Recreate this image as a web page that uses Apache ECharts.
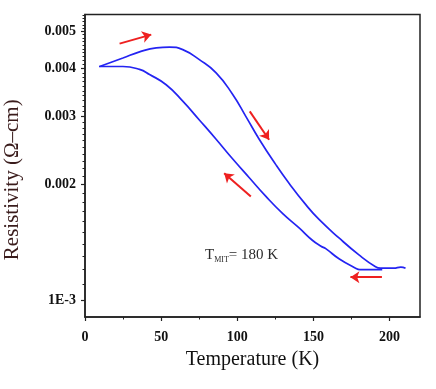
<!DOCTYPE html>
<html>
<head>
<meta charset="utf-8">
<script src="https://cdn.jsdelivr.net/npm/echarts@6/dist/echarts.min.js"></script>
<style>
html, body { margin: 0; padding: 0; background: #fff; }
#chart { width: 436px; height: 389px; }
</style>
</head>
<body>
<div id="chart"></div>
<script>
// heating run (upper branch): [T (K), resistivity (ohm-cm)]
var heating = [
    [9.6, 0.00405], [24.9, 0.00426], [35.8, 0.00442], [46.8, 0.00453], [55.5, 0.00455],
    [64.2, 0.00448], [75.1, 0.00422], [86.1, 0.00390], [96.9, 0.00343], [105.7, 0.00300],
    [114.4, 0.00262], [125.3, 0.00225], [134.1, 0.00201], [145.0, 0.00177], [153.7, 0.00162],
    [166.8, 0.00145], [179.9, 0.00131], [190.8, 0.00122], [194.0, 0.00121], [202.8, 0.00121],
    [207.4, 0.001218], [210.5, 0.00121]
]
// cooling run (lower branch)
var cooling = [
    [9.2, 0.00405], [24.9, 0.00405], [35.8, 0.00398], [42.4, 0.00386], [53.3, 0.00363],
    [64.2, 0.00329], [75.1, 0.00294], [86.1, 0.00262], [96.9, 0.00233], [107.9, 0.00208],
    [118.8, 0.00186], [129.7, 0.00168], [140.6, 0.00154], [149.3, 0.00143], [155.0, 0.00138],
    [158.1, 0.00136], [166.8, 0.00128], [177.7, 0.00121], [180.5, 0.00120], [195.2, 0.00120]
]
// red direction arrows: [tail, head]
var arrows = [
    [[22.7, 0.004645], [43.5, 0.004903]],
    [[108.2, 0.003095], [120.9, 0.002611]],
    [[108.9, 0.001858], [91.4, 0.002138]],
    [[195.0, 0.001146], [174.3, 0.001146]]
]
var xTicks = [0, 50, 100, 150, 200]
var xMinorTicks = [25, 75, 125, 175]
var yTicks = [0.001, 0.002, 0.003, 0.004, 0.005]
var yMinorTicks = []
for (var k = 9; k <= 55; k++) {
    if (k % 10 !== 0) yMinorTicks.push(k / 10000)
}
var yMin = 0.000903
var yMax = 0.00553

function lg(v) { return Math.log10(v) }
function toLog(arr) { return arr.map(function (p) { return [p[0], lg(p[1])] }) }

var serif = 'Liberation Serif'
var axisColor = '#222'
var blue = '#2424f2'
var red = '#ee2020'

var myChart = echarts.init(document.getElementById('chart'))
var option = {
    animation: false,
    grid: {
        left: 85, right: 16, top: 14.5, bottom: 72,
        outerBoundsMode: 'none', containLabel: false,
        show: true, borderColor: axisColor, borderWidth: 1.5
    },
    xAxis: [
        {
            type: 'value', min: 0, max: 220,
            name: 'Temperature (K)', nameLocation: 'middle', nameGap: 33,
            nameTextStyle: { fontFamily: serif, fontSize: 20, color: '#111' },
            axisLine: { lineStyle: { color: axisColor, width: 1.5 } },
            axisTick: { customValues: xTicks, length: 4, lineStyle: { color: axisColor, width: 1.2 } },
            axisLabel: {
                customValues: xTicks, margin: 13,
                fontFamily: serif, fontWeight: 'bold', fontSize: 14, color: '#111'
            },
            splitLine: { show: false }
        },
        {
            type: 'value', min: 0, max: 220, position: 'bottom', offset: 0,
            axisLine: { show: false },
            axisTick: { customValues: xMinorTicks, length: 2.5, lineStyle: { color: axisColor, width: 1 } },
            axisLabel: { show: false },
            splitLine: { show: false }
        }
    ],
    yAxis: [
        {
            type: 'value', min: lg(yMin), max: lg(yMax), position: 'left',
            name: 'Resistivity (Ω–cm)', nameLocation: 'middle', nameGap: 62,
            nameTextStyle: { fontFamily: serif, fontSize: 21, color: '#3a1c1c', padding: [0, 28, 0, 0] },
            axisLine: { lineStyle: { color: axisColor, width: 1.5 } },
            axisTick: { customValues: yTicks.map(lg), length: 4, lineStyle: { color: axisColor, width: 1.2 } },
            axisLabel: {
                customValues: yTicks.map(lg), margin: 9,
                fontFamily: serif, fontWeight: 'bold', fontSize: 14, color: '#111',
                formatter: function (v) {
                    var r = Math.pow(10, v)
                    if (Math.abs(r - 0.001) < 1e-7) return '1E-3'
                    return r.toFixed(3)
                }
            },
            splitLine: { show: false }
        },
        {
            type: 'value', min: lg(yMin), max: lg(yMax), position: 'left', offset: 0,
            axisLine: { show: false },
            axisTick: { customValues: yMinorTicks.map(lg), length: 2.5, lineStyle: { color: axisColor, width: 1 } },
            axisLabel: { show: false },
            splitLine: { show: false }
        }
    ],
    series: [
        {
            name: 'heating', type: 'line', smooth: 0.5, showSymbol: false,
            xAxisIndex: 0, yAxisIndex: 0,
            lineStyle: { color: blue, width: 1.7 },
            data: toLog(heating),
            markLine: {
                silent: true,
                symbol: ['none', 'arrow'], symbolSize: 9,
                label: { show: false },
                itemStyle: { color: red },
                lineStyle: { color: red, width: 2, type: 'solid' },
                data: arrows.map(function (a) {
                    return [{ coord: [a[0][0], lg(a[0][1])] }, { coord: [a[1][0], lg(a[1][1])] }]
                })
            }
        },
        {
            name: 'cooling', type: 'line', smooth: 0.5, showSymbol: false,
            xAxisIndex: 0, yAxisIndex: 0,
            lineStyle: { color: blue, width: 1.7 },
            data: toLog(cooling)
        }
    ],
    graphic: [
        {
            type: 'text', left: 205, top: 248,
            style: {
                text: 'T{sub|MIT}= 180 K',
                font: '15px "Liberation Serif"',
                fill: '#2a2a2a',
                rich: {
                    sub: { fontSize: 8, fontFamily: serif, fill: '#2a2a2a', padding: [9, 0, 0, 0] }
                }
            }
        }
    ]
}
myChart.setOption(option)

window.addEventListener('resize', function () {
    myChart.resize()
})
</script>
</body>
</html>
